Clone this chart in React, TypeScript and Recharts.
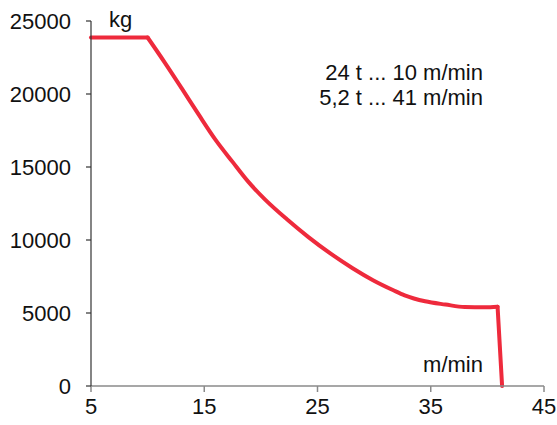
import { LineChart, Line, XAxis, YAxis } from 'recharts'

// speed in m/min vs load in kg
const speeds = [
  5, 10, 11.5, 13, 14.5, 16, 17.5, 18.9, 20.4, 22.3, 24.2, 26.1, 28.1, 29.9, 31.7, 32.7, 34.5,
  36.3, 38, 39.8, 40.9, 41.3,
]
const loads = [
  23870, 23870, 22170, 20400, 18600, 16860, 15350, 13980, 12750, 11420, 10200, 9100, 8070, 7250,
  6560, 6210, 5800, 5580, 5410, 5390, 5430, 0,
]

const xTicks = [5, 15, 25, 35, 45]
const yTicks = [0, 5000, 10000, 15000, 20000, 25000]

const notes = ['24 t ... 10 m/min', '5,2 t ... 41 m/min']

// flat part up to the knee, smooth curve, then the drop to zero
const last = speeds.length - 1
const data = speeds.map((speed, i) => ({
  speed,
  flat: i <= 1 ? loads[i] : null,
  curve: i >= 1 && i <= last - 1 ? loads[i] : null,
  drop: i >= last - 1 ? loads[i] : null,
}))

const font = '"Liberation Sans", Arial, sans-serif'
const tickStyle = { fill: '#111', fontSize: 22, fontFamily: font }
const red = '#ee2a3c'

export default function App() {
  return (
    <div style={{ position: 'relative', width: 557, height: 425 }}>
      <style>{'body { margin: 0; }'}</style>
      <LineChart width={557} height={425} data={data} margin={{ top: 21, right: 13, bottom: 9, left: 0 }}>
        <XAxis
          dataKey="speed"
          type="number"
          domain={[5, 45]}
          ticks={xTicks}
          tick={tickStyle}
          tickSize={6}
          tickMargin={6}
          height={30}
          stroke="#8a8a8a"
          strokeWidth={1.5}
        />
        <YAxis
          type="number"
          domain={[0, 25000]}
          ticks={yTicks}
          tick={tickStyle}
          tickSize={5}
          tickMargin={15}
          width={91}
          stroke="#333"
          strokeWidth={1.2}
        />
        <Line type="linear" dataKey="flat" stroke={red} strokeWidth={4} strokeLinecap="round" dot={false} isAnimationActive={false} />
        <Line type="monotone" dataKey="curve" stroke={red} strokeWidth={4} strokeLinecap="round" dot={false} isAnimationActive={false} />
        <Line type="linear" dataKey="drop" stroke={red} strokeWidth={4} strokeLinecap="round" dot={false} isAnimationActive={false} />
      </LineChart>
      <svg
        width={557}
        height={425}
        style={{ position: 'absolute', left: 0, top: 0, pointerEvents: 'none' }}
      >
        <g fontFamily={font} fontSize={22} fill="#111">
          <text x={109} y={27}>kg</text>
          <text x={483} y={372} textAnchor="end">m/min</text>
          {notes.map((note, i) => (
            <text key={note} x={483} y={80 + i * 25} textAnchor="end">
              {note}
            </text>
          ))}
        </g>
      </svg>
    </div>
  )
}
